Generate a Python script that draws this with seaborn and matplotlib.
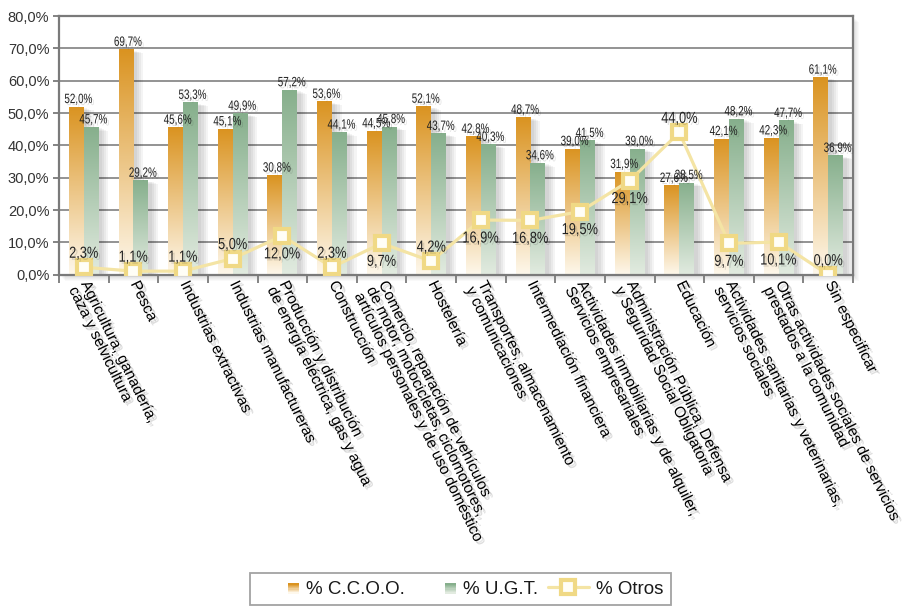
import numpy as np
import pandas as pd
import matplotlib
matplotlib.use("Agg")
import matplotlib.pyplot as plt
import matplotlib.patheffects as pe
import matplotlib.transforms as mtransforms
from matplotlib.textpath import TextPath
from matplotlib.patches import PathPatch, Rectangle
from matplotlib.font_manager import FontProperties, findfont
from matplotlib.colors import LinearSegmentedColormap, to_rgb
from matplotlib.legend_handler import HandlerBase
from matplotlib.lines import Line2D
import seaborn as sns

# ---------------------------------------------------------------- data
categories = [
    "Agricultura, ganadería,\ncaza y selvicultura",
    "Pesca",
    "Industrias extractivas",
    "Industrias manufactureras",
    "Producción y distribución\nde energía eléctrica, gas y agua",
    "Construcción",
    "Comercio, reparación de vehículos\nde motor, motocicletas, ciclomotores,\nartículos personales y de uso doméstico",
    "Hostelería",
    "Transportes, almacenamiento\ny comunicaciones",
    "Intermediación financiera",
    "Actividades inmobiliarias y de alquiler,\nServicios empresariales",
    "Administración Pública, Defensa\ny Seguridad Social Obligatoria",
    "Educación",
    "Actividades sanitarias y veterinarias,\nservicios sociales",
    "Otras actividades sociales de servicios\nprestados a la comunidad",
    "Sin especificar",
]
ccoo = [52.0, 69.7, 45.6, 45.1, 30.8, 53.6, 44.5, 52.1, 42.8, 48.7, 39.0, 31.9, 27.6, 42.1, 42.3, 61.1]
ugt = [45.7, 29.2, 53.3, 49.9, 57.2, 44.1, 45.8, 43.7, 40.3, 34.6, 41.5, 39.0, 28.5, 48.2, 47.7, 36.9]
otros = [2.3, 1.1, 1.1, 5.0, 12.0, 2.3, 9.7, 4.2, 16.9, 16.8, 19.5, 29.1, 44.0, 9.7, 10.1, 0.0]
otros_label_side = ["above", "above", "above", "above", "below", "above", "below", "above",
                    "below", "below", "below", "below", "above", "below", "below", "above"]
series_names = ["% C.C.O.O.", "% U.G.T.", "% Otros"]
y_ticks = [0, 10, 20, 30, 40, 50, 60, 70, 80]

# ---------------------------------------------------------------- style
ORANGE_TOP, ORANGE_BOT = "#DA9320", "#FEF8EC"
GREEN_TOP, GREEN_BOT = "#86AF8C", "#E2EBE0"
LINE_COLOR, MARKER_EDGE = "#F4E4A4", "#F0D985"
GRID_GRAY = "#8A8A8A"


def pick_font(names):
    for n in names:
        try:
            findfont(FontProperties(family=n), fallback_to_default=False)
            return n
        except ValueError:
            continue
    return "DejaVu Sans"


SANS = pick_font(["Liberation Sans", "Arimo", "DejaVu Sans"])
NARROW = pick_font(["Liberation Sans Narrow", "Liberation Sans", "DejaVu Sans"])
NARROW_FACTOR = 0.82 if "Narrow" in NARROW else 1.0

sns.set_theme(style="white")
plt.rcParams["font.family"] = [SANS, "DejaVu Sans"]

fig = plt.figure(figsize=(9.05, 6.06), dpi=100)
fig.patch.set_facecolor("white")
W, H = 905, 606
ax_left, ax_right, ax_top, ax_bottom = 59, 853, 16, 274.7
ax = fig.add_axes([ax_left / W, 1 - ax_bottom / H, (ax_right - ax_left) / W, (ax_bottom - ax_top) / H])

# soft drop shadow of the plot frame
for k in range(1, 7):
    fig.patches.append(Rectangle(((ax_left + k) / W, 1 - (ax_bottom + k) / H),
                                 (ax_right - ax_left) / W, (ax_bottom - ax_top) / H,
                                 transform=fig.transFigure, facecolor="black",
                                 edgecolor="none", alpha=0.025, zorder=-5))

# ---------------------------------------------------------------- bars
n = len(categories)
df = pd.DataFrame({
    "sector": categories * 2,
    "valor": ccoo + ugt,
    "serie": [series_names[0]] * n + [series_names[1]] * n,
})
sns.barplot(data=df, x="sector", y="valor", hue="serie", order=categories,
            hue_order=series_names[:2], palette=[ORANGE_TOP, GREEN_TOP],
            width=0.6, saturation=1, ax=ax, legend=False, errorbar=None)

shadow_fx = [pe.SimplePatchShadow(offset=(o, -o * 0.4), shadow_rgbFace="black", alpha=0.045)
             for o in (7, 5.5, 4, 2.5)] + [pe.Normal()]
grad = np.linspace(0, 1, 256).reshape(-1, 1)
for container, (top, bot) in zip(ax.containers, [(ORANGE_TOP, ORANGE_BOT), (GREEN_TOP, GREEN_BOT)]):
    cmap = LinearSegmentedColormap.from_list("bar", [bot, top])
    for bar in container:
        bar.set_edgecolor("none")
        bar.set_path_effects(shadow_fx)
        x0, w, h = bar.get_x(), bar.get_width(), bar.get_height()
        im = ax.imshow(grad, extent=[x0, x0 + w, 0, h], origin="lower", cmap=cmap,
                       aspect="auto", interpolation="bilinear", zorder=bar.get_zorder() + 0.1)
        im.set_clip_path(bar)

# ---------------------------------------------------------------- line
xs = np.arange(n)
sns.lineplot(x=xs, y=otros, ax=ax, color=LINE_COLOR, lw=2.3, marker="s", markersize=10,
             markerfacecolor="#FFFEF6", markeredgecolor=MARKER_EDGE, markeredgewidth=3,
             zorder=5, legend=False, sort=False)

# ---------------------------------------------------------------- axes
ax.set_xlim(-0.5, n - 0.5)
ax.set_ylim(0, 80)
ax.set_xlabel("")
ax.set_ylabel("")
ax.set_yticks(y_ticks)
ax.set_yticklabels([f"{v:.1f}%".replace(".", ",") for v in y_ticks], fontsize=10.5, color="#333333")
ax.set_axisbelow(True)
ax.yaxis.grid(True, color=GRID_GRAY, lw=1.3)
ax.xaxis.grid(False)
for s in ax.spines.values():
    s.set_color("#7A7A7A")
    s.set_linewidth(1.6)
ax.tick_params(axis="y", which="major", direction="out", length=4, width=1.3,
               color="#7A7A7A", pad=3, left=True)

ax.set_xticks(xs)
ax.set_xticks(np.arange(-0.5, n, 1), minor=True)
ax.tick_params(axis="x", which="major", length=0, pad=3)
ax.tick_params(axis="x", which="minor", length=6, width=1.3, color="#7A7A7A", direction="out", bottom=True)
ax.set_xticklabels(categories, rotation=-64, ha="left", va="top", rotation_mode="anchor",
                   fontsize=11.1, linespacing=0.95, color="black")
label_shift = mtransforms.ScaledTranslation(5 / 72, 0, fig.dpi_scale_trans)
for lbl in ax.get_xticklabels():
    lbl.set_transform(lbl.get_transform() + label_shift)
    lbl.set_path_effects([pe.SimplePatchShadow(offset=(2.5, -2.5), shadow_rgbFace="black", alpha=0.13),
                          pe.SimplePatchShadow(offset=(1.5, -1.5), shadow_rgbFace="black", alpha=0.1),
                          pe.Normal()])


# ---------------------------------------------------------------- value labels
def squeezed_label(x, y, s, em_px, squeeze, dx_px, baseline_px, color="#222222"):
    fp = FontProperties(family=NARROW)
    tp = TextPath((0, 0), s, size=em_px, prop=fp)
    bb = tp.get_extents()
    sx = squeeze / NARROW_FACTOR
    tr = (mtransforms.Affine2D().translate(-(bb.x0 + bb.x1) / 2, 0).scale(sx, 1)
          .translate(dx_px, baseline_px)
          + mtransforms.ScaledTranslation(x, y, ax.transData))
    patch = PathPatch(tp, transform=tr, facecolor=color, edgecolor="none", lw=0,
                      zorder=7, clip_on=False)
    patch.set_path_effects([pe.SimplePatchShadow(offset=(1.5, -1.5), shadow_rgbFace="black", alpha=0.12),
                            pe.Normal()])
    ax.add_artist(patch)


def fmt(v):
    return f"{v:.1f}%".replace(".", ",")


for container, vals in zip(ax.containers, [ccoo, ugt]):
    for bar, v in zip(container, vals):
        squeezed_label(bar.get_x() + bar.get_width() / 2, v, fmt(v), 13.5, 0.73, 2, 3.5)

for x, v, side in zip(xs, otros, otros_label_side):
    base = 9.5 if side == "above" else -22.5
    squeezed_label(x, v, fmt(v), 16, 0.8, 0, base)


# ---------------------------------------------------------------- legend
class GradientSquare(HandlerBase):
    def __init__(self, top, bottom, size=7.5):
        super().__init__()
        self.top, self.bottom, self.size = to_rgb(top), to_rgb(bottom), size

    def create_artists(self, legend, orig_handle, xdescent, ydescent, width, height, fontsize, trans):
        s = self.size
        x0 = -xdescent + width - s
        y0 = -ydescent + (height - s) / 2 - 1
        strips = 8
        arts = []
        for i in range(strips):
            t = i / (strips - 1)
            c = tuple(b + (tp - b) * t for b, tp in zip(self.bottom, self.top))
            r = Rectangle((x0, y0 + i * s / strips), s, s / strips + 0.05, facecolor=c,
                          edgecolor="none", transform=trans)
            arts.append(r)
        return arts


h_ccoo = Rectangle((0, 0), 1, 1, facecolor=ORANGE_TOP)
h_ugt = Rectangle((0, 0), 1, 1, facecolor=GREEN_TOP)
h_otros = Line2D([], [], color=LINE_COLOR, lw=2.3, marker="s", markersize=10,
                 markerfacecolor="#FFFEF6", markeredgecolor=MARKER_EDGE, markeredgewidth=3)
leg = fig.legend([h_ccoo, h_ugt, h_otros], series_names, loc="upper center",
                 bbox_to_anchor=(0.509, 1 - 573 / H), borderaxespad=0, ncol=3, fontsize=13.5,
                 handlelength=2.2, handletextpad=0.4, columnspacing=0.5, borderpad=0.4,
                 frameon=True, fancybox=False, edgecolor="#8C8C8C",
                 handler_map={h_ccoo: GradientSquare(ORANGE_TOP, ORANGE_BOT),
                              h_ugt: GradientSquare(GREEN_TOP, GREEN_BOT)})
leg.get_frame().set_linewidth(1.3)
for t in leg.get_texts():
    t.set_color("#1a1a1a")

fig.savefig("out.png", dpi=100, facecolor="white")
